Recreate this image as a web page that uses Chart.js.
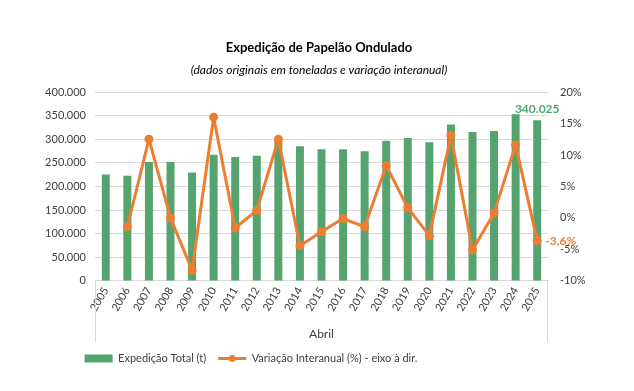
<!DOCTYPE html>
<html>
<head>
<meta charset="utf-8">
<script src="https://cdn.jsdelivr.net/npm/chart.js@4"></script>
<style>
  html, body { margin: 0; padding: 0; background: #fff; }
  #wrap { width: 634px; height: 391px; }
</style>
</head>
<body>
<div id="wrap"><canvas id="chart" width="634" height="391"></canvas></div>
<script>
// Dados do gráfico
const anos = ['2005', '2006', '2007', '2008', '2009', '2010', '2011', '2012', '2013', '2014', '2015',
              '2016', '2017', '2018', '2019', '2020', '2021', '2022', '2023', '2024', '2025'];
const expedicao = [225500, 222800, 251600, 251800, 229800, 267000, 262100, 264900, 298000, 285200, 278900,
                   278900, 274700, 297000, 302700, 293600, 331400, 315300, 317400, 352700, 340025];
const variacao = [null, -1.4, 12.5, 0.0, -8.3, 16.0, -1.6, 1.2, 12.5, -4.4, -2.2,
                  -0.1, -1.4, 8.3, 1.6, -2.8, 13.1, -5.1, 0.8, 11.6, -3.6];

const VERDE = '#55A36E';
const LARANJA = '#ED7D31';
const FONTE = 'Lato, "Open Sans", sans-serif';

function fmtMilhar(v) {
    return String(Math.round(v)).replace(/\B(?=(\d{3})+(?!\d))/g, '.');
}

// rótulos do último ano, linhas do eixo de categorias e marcador da legenda
const extras = {
    id: 'extras',
    afterLayout(chart) {
        // legenda do Excel fica um pouco à esquerda do centro
        const lg = chart.legend;
        if (lg) {
            lg.left -= 68;
            lg.right -= 68;
        }
    },
    afterDatasetsDraw(chart) {
        const ctx = chart.ctx;
        const area = chart.chartArea;
        const last = anos.length - 1;

        ctx.save();
        ctx.strokeStyle = '#D9D9D9';
        ctx.lineWidth = 1;
        ctx.beginPath();
        ctx.moveTo(area.left + 0.5, area.bottom);
        ctx.lineTo(area.left + 0.5, area.bottom + 61);
        ctx.moveTo(area.right - 0.5, area.bottom);
        ctx.lineTo(area.right - 0.5, area.bottom + 61);
        ctx.stroke();

        const bar = chart.getDatasetMeta(1).data[last];
        ctx.font = 'bold 12px ' + FONTE;
        ctx.fillStyle = VERDE;
        ctx.textAlign = 'center';
        ctx.textBaseline = 'bottom';
        ctx.fillText(fmtMilhar(expedicao[last]), bar.x, bar.y - 5);

        const pt = chart.getDatasetMeta(0).data[last];
        ctx.fillStyle = LARANJA;
        ctx.textAlign = 'left';
        ctx.textBaseline = 'middle';
        ctx.fillText(variacao[last].toFixed(1).replace('.', ',') + '%', pt.x + 8, pt.y + 1);
        ctx.restore();
    },
    afterDraw(chart) {
        const lg = chart.legend;
        if (!lg || !lg.legendHitBoxes) return;
        const ctx = chart.ctx;
        lg.legendItems.forEach((item, i) => {
            if (item.pointStyle !== 'line') return;
            const hb = lg.legendHitBoxes[i];
            ctx.save();
            ctx.fillStyle = LARANJA;
            ctx.beginPath();
            ctx.arc(hb.left + 14, hb.top + hb.height / 2, 3.5, 0, Math.PI * 2);
            ctx.fill();
            ctx.restore();
        });
    }
};

new Chart(document.getElementById('chart').getContext('2d'), {
    data: {
        labels: anos,
        datasets: [
            {
                type: 'line',
                label: 'Variação Interanual (%) - eixo à dir.',
                data: variacao,
                yAxisID: 'y1',
                borderColor: LARANJA,
                backgroundColor: LARANJA,
                borderWidth: 3,
                borderJoinStyle: 'round',
                borderCapStyle: 'round',
                pointRadius: 4.5,
                pointHoverRadius: 4.5,
                pointBorderWidth: 0,
                tension: 0,
                order: 1
            },
            {
                type: 'bar',
                label: 'Expedição Total (t)',
                data: expedicao,
                yAxisID: 'y',
                backgroundColor: VERDE,
                barPercentage: 0.37,
                categoryPercentage: 1.0,
                order: 2
            }
        ]
    },
    options: {
        responsive: false,
        animation: false,
        layout: { padding: { left: 40, right: 36, top: 4, bottom: 17 } },
        plugins: {
            title: {
                display: true,
                text: 'Expedição de Papelão Ondulado',
                color: '#000',
                font: { family: FONTE, size: 13, weight: 'bold' },
                padding: { top: 36, bottom: 7 }
            },
            subtitle: {
                display: true,
                text: '(dados originais em toneladas e variação interanual)',
                color: '#000',
                font: { family: FONTE, size: 12, style: 'italic' },
                padding: { bottom: 15 }
            },
            legend: {
                position: 'bottom',
                reverse: true,
                labels: {
                    color: '#404040',
                    font: { family: FONTE, size: 11 },
                    usePointStyle: true,
                    pointStyleWidth: 28,
                    boxHeight: 8,
                    padding: 12,
                    generateLabels(chart) {
                        return chart.data.datasets.map((ds, i) => ({
                            text: ds.label,
                            fillStyle: ds.type === 'bar' ? VERDE : LARANJA,
                            strokeStyle: ds.type === 'bar' ? VERDE : LARANJA,
                            lineWidth: ds.type === 'bar' ? 0 : 3,
                            fontColor: '#404040',
                            datasetIndex: i,
                            pointStyle: ds.type === 'bar' ? 'rect' : 'line'
                        }));
                    }
                }
            },
            tooltip: { enabled: false }
        },
        scales: {
            x: {
                grid: { display: false, drawTicks: false },
                border: { color: '#D9D9D9' },
                ticks: {
                    color: '#404040',
                    font: { family: FONTE, size: 11 },
                    minRotation: 60,
                    maxRotation: 60,
                    padding: 4
                },
                title: {
                    display: true,
                    text: 'Abril',
                    color: '#404040',
                    font: { family: FONTE, size: 12 },
                    padding: { top: 9, bottom: 0 }
                }
            },
            y: {
                position: 'left',
                min: 0,
                max: 400000,
                afterFit(scale) { scale.width = 55; },
                grid: { color: '#D9D9D9', drawTicks: false },
                border: { display: false },
                ticks: {
                    stepSize: 50000,
                    color: '#404040',
                    font: { family: FONTE, size: 11 },
                    padding: 9,
                    callback: v => fmtMilhar(v)
                }
            },
            y1: {
                position: 'right',
                min: -10,
                max: 20,
                afterFit(scale) { scale.width = 50; },
                grid: { display: false, drawTicks: false },
                border: { display: false },
                ticks: {
                    stepSize: 5,
                    color: '#404040',
                    font: { family: FONTE, size: 11 },
                    padding: 12,
                    callback: v => v + '%'
                }
            }
        }
    },
    plugins: [extras]
});
</script>
</body>
</html>
